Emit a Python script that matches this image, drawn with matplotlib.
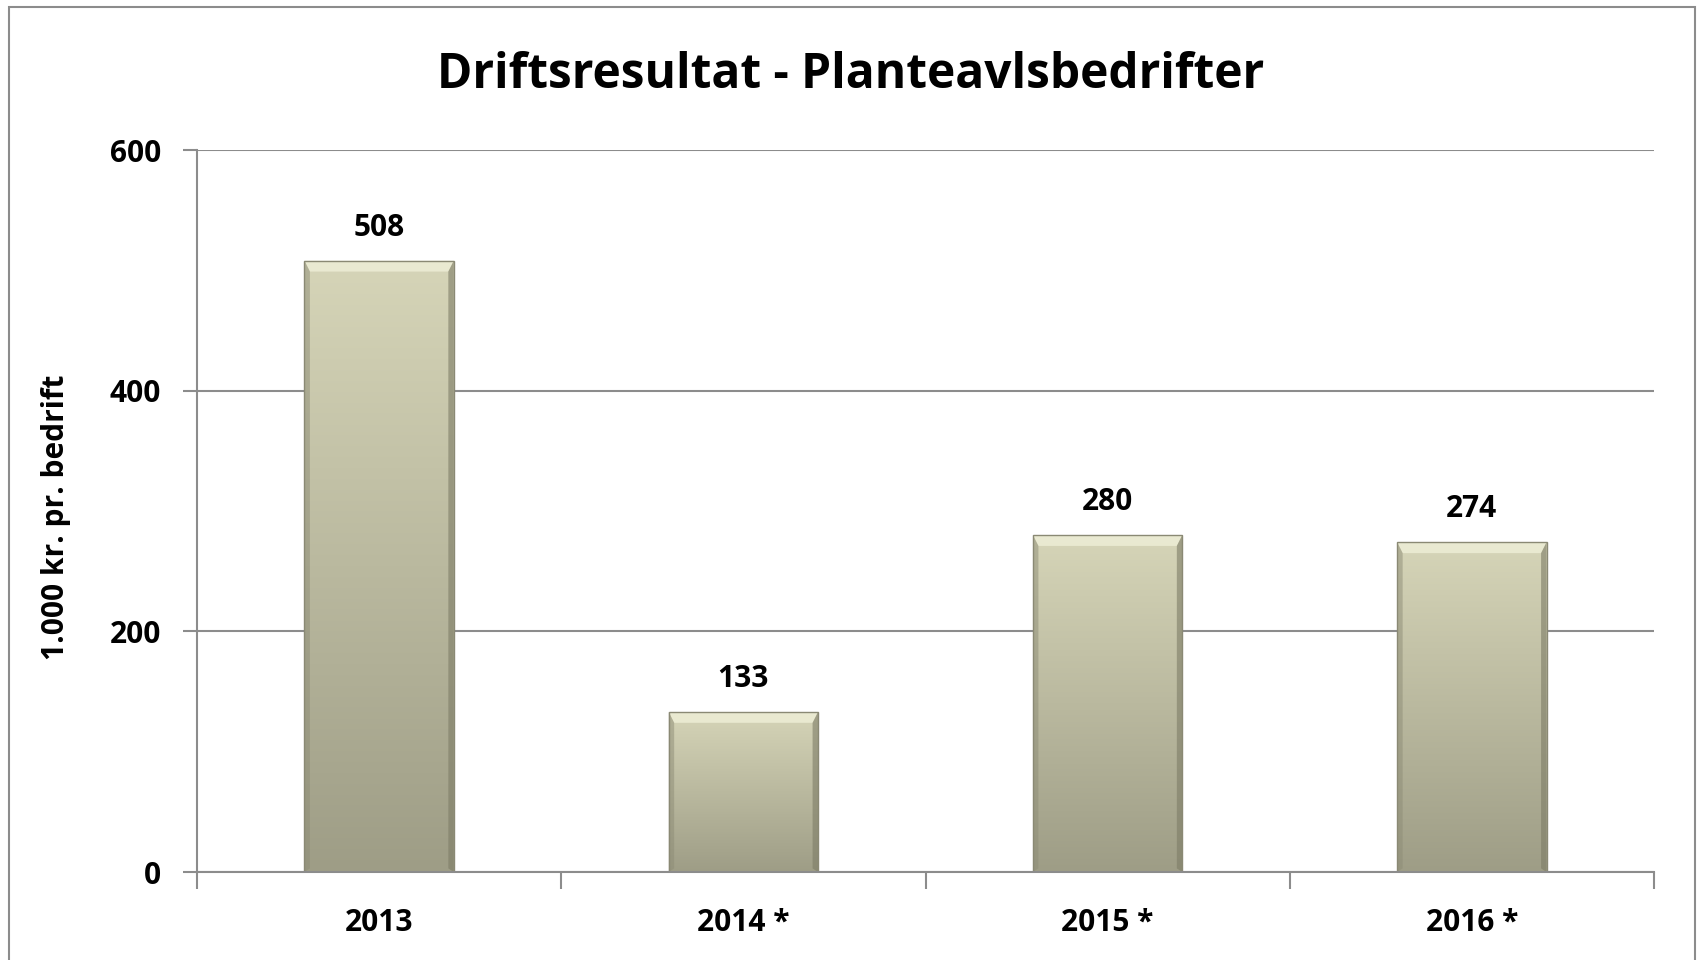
import matplotlib
matplotlib.use("Agg")
import matplotlib.pyplot as plt
import numpy as np
from matplotlib.patches import Rectangle, Polygon

categories = ["2013", "2014 *", "2015 *", "2016 *"]
values = [508, 133, 280, 274]
yticks = [0, 200, 400, 600]
title = "Driftsresultat - Planteavlsbedrifter"
ylabel = "1.000 kr. pr. bedrift"

plt.rcParams['font.family'] = ['Open Sans', 'DejaVu Sans']

fig = plt.figure(figsize=(16.98, 9.6), dpi=100)
fig.patch.set_facecolor("white")
fig.patches.append(Rectangle((9/1698, -0.01), (1695-9)/1698, 1.0 - 7/960 + 0.01,
                             transform=fig.transFigure, fill=False,
                             edgecolor="#8c8c8c", linewidth=1.5))

ax = fig.add_axes([197/1698, 88/960, (1654-197)/1698, (872-150)/960])
ax.set_xlim(-0.5, len(categories) - 0.5)
ax.set_ylim(0, 600)

width = 0.41
x = np.arange(len(categories))
bars = ax.bar(x, values, width=width, color="#c4c3a6", edgecolor="none", zorder=3)

# gradient fill clipped to bars
grad = np.linspace(0, 1, 256).reshape(-1, 1)
top_c = np.array([0xd6, 0xd5, 0xb8]) / 255
bot_c = np.array([0x9e, 0x9d, 0x86]) / 255
img = top_c[None, None, :] * (1 - grad[..., None]) + bot_c[None, None, :] * grad[..., None]
img = img[:, 0, :][:, None, :]
for b in bars:
    x0, y0 = b.get_x(), b.get_y()
    w, h = b.get_width(), b.get_height()
    im = ax.imshow(img, extent=(x0, x0 + w, y0, y0 + h), origin="upper",
                   aspect="auto", zorder=3.5)
    im.set_clip_path(b)
    bx = 0.015
    by = 9
    ax.add_patch(Polygon([(x0, y0 + h), (x0 + w, y0 + h), (x0 + w - bx, y0 + h - by), (x0 + bx, y0 + h - by)],
                         closed=True, facecolor="#ececd4", edgecolor="none", alpha=0.9, zorder=4))
    ax.add_patch(Polygon([(x0, y0), (x0 + bx, y0 + 3), (x0 + bx, y0 + h - by), (x0, y0 + h)],
                         closed=True, facecolor="#8d8c76", edgecolor="none", alpha=0.5, zorder=4))
    ax.add_patch(Polygon([(x0 + w, y0), (x0 + w - bx, y0 + 3), (x0 + w - bx, y0 + h - by), (x0 + w, y0 + h)],
                         closed=True, facecolor="#7d7c66", edgecolor="none", alpha=0.6, zorder=4))
    ax.add_patch(Rectangle((x0, y0), w, h, fill=False, edgecolor="#8a8974", linewidth=1.0, zorder=4.5))

fs = 21.5
for xi, v in zip(x, values):
    ax.annotate(str(v), (xi, v), xytext=(0, 13), textcoords="offset points",
                ha="center", va="bottom", fontsize=fs, fontweight="bold", color="black")

ax.set_yticks(yticks)
ax.set_yticklabels([str(t) for t in yticks], fontsize=fs, fontweight="bold")
ax.set_xticks(x)
ax.set_xticklabels(categories, fontsize=fs, fontweight="bold")
ax.tick_params(axis="x", length=0, pad=26)
ax.set_xticks(np.arange(-0.5, len(categories)), minor=True)
ax.tick_params(axis="x", which="minor", length=12, width=1.5, color="#8c8c8c", direction="out")
ax.tick_params(axis="y", length=10, width=1.5, color="#8c8c8c", direction="out", pad=16)

ax.grid(axis="y", color="#8c8c8c", linewidth=1.5, zorder=0)
ax.set_axisbelow(True)
for s in ["top", "right"]:
    ax.spines[s].set_visible(False)
for s in ["left", "bottom"]:
    ax.spines[s].set_color("#8c8c8c")
    ax.spines[s].set_linewidth(1.5)
ax.spines["bottom"].set_zorder(5)

fig.text(56/1698, 1 - 517/960, ylabel, rotation=90, ha="center", va="center",
         fontsize=fs, fontweight="bold")
fig.text(0.5 * (438 + 1264) / 1698, 1 - 76/960, title, ha="center", va="center",
         fontsize=34.5, fontweight="bold")

fig.savefig("out.png", dpi=100)
